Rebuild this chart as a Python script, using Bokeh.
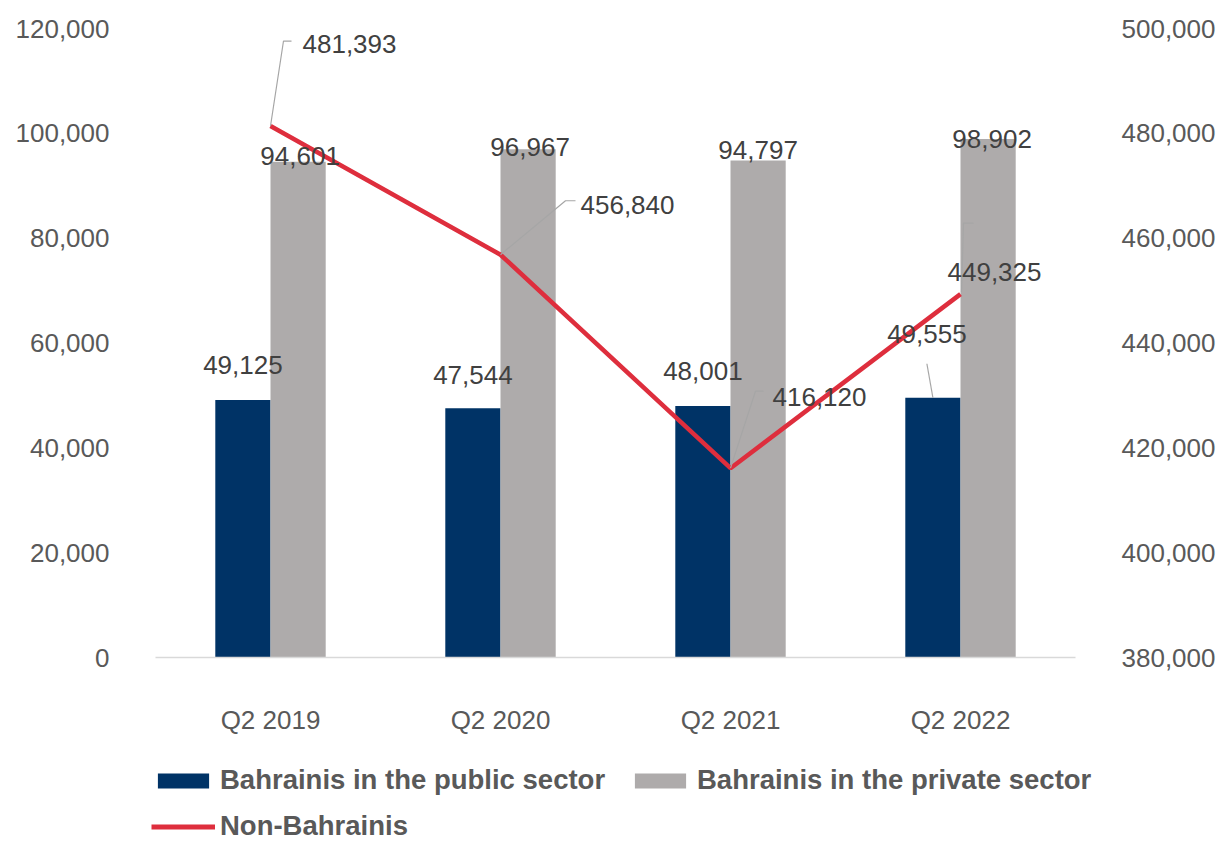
from bokeh.plotting import figure
from bokeh.layouts import column
from bokeh.models import (Range1d, LinearAxis, Legend, LegendItem, NumeralTickFormatter,
                          FixedTicker, ColumnDataSource)
from bokeh.transform import dodge
from bokeh.core.properties import value
from bokeh.embed import file_html
from bokeh.resources import INLINE

# ---------------- data ----------------
quarters = ["Q2 2019", "Q2 2020", "Q2 2021", "Q2 2022"]
public_sector = [49125, 47544, 48001, 49555]
private_sector = [94601, 96967, 94797, 98902]
non_bahrainis = [481393, 456840, 416120, 449325]

left_ticks = [0, 20000, 40000, 60000, 80000, 100000, 120000]
right_ticks = [380000, 400000, 420000, 440000, 460000, 480000, 500000]

series_names = ["Bahrainis in the public sector", "Bahrainis in the private sector", "Non-Bahrainis"]

# ---------------- style ----------------
NAVY = "#003366"
GREY = "#AEABAB"
RED = "#DE2E3D"
LABEL_COLOR = "#404040"
TICK_COLOR = "#595959"
FONT = "Liberation Sans"

W, H1, H2 = 1222, 750, 92
B_LEFT, B_RIGHT, B_TOP, B_BOTTOM = 155, 147, 28, 93
FRAME_W = W - B_LEFT - B_RIGHT
FRAME_H = H1 - B_TOP - B_BOTTOM
BAR_W = 0.24

xs = list(range(1, len(quarters) + 1))
PX_X = FRAME_W / len(quarters)                              # px per category unit
UNIT_Y = (left_ticks[-1] - left_ticks[0]) / FRAME_H         # data units per px (both axes share span)

p = figure(width=W, height=H1, output_backend="svg", toolbar_location=None,
           x_range=Range1d(0.5, len(quarters) + 0.5),
           y_range=Range1d(left_ticks[0], left_ticks[-1]),
           min_border_left=B_LEFT, min_border_right=B_RIGHT,
           min_border_top=B_TOP, min_border_bottom=B_BOTTOM,
           y_axis_location=None, x_axis_location=None)
p.extra_y_ranges = {"right": Range1d(right_ticks[0], right_ticks[-1])}
p.outline_line_color = None
p.xgrid.visible = False
p.ygrid.visible = False
p.background_fill_color = "white"
p.border_fill_color = "white"

src = ColumnDataSource(dict(x=xs, pub=public_sector, priv=private_sector, nb=non_bahrainis,
                            pub_lbl=[f"{v:,}" for v in public_sector],
                            priv_lbl=[f"{v:,}" for v in private_sector],
                            nb_lbl=[f"{v:,}" for v in non_bahrainis]))

# axes
xaxis = LinearAxis(ticker=FixedTicker(ticks=xs),
                   major_label_overrides={x: q for x, q in zip(xs, quarters)})
yaxis_l = LinearAxis(ticker=FixedTicker(ticks=left_ticks), formatter=NumeralTickFormatter(format="0,0"))
yaxis_r = LinearAxis(y_range_name="right", ticker=FixedTicker(ticks=right_ticks),
                     formatter=NumeralTickFormatter(format="0,0"))
for ax in (xaxis, yaxis_l, yaxis_r):
    ax.major_tick_line_color = None
    ax.minor_tick_line_color = None
    ax.major_tick_in = 0
    ax.major_tick_out = 0
    ax.minor_tick_out = 0
    ax.major_label_text_font = FONT
    ax.major_label_text_font_size = "26px"
    ax.major_label_text_color = TICK_COLOR
yaxis_l.axis_line_color = None
yaxis_r.axis_line_color = None
xaxis.axis_line_color = "#D9D9D9"
xaxis.axis_line_width = 1.5
xaxis.major_label_standoff = 47
yaxis_l.major_label_standoff = 46
yaxis_r.major_label_standoff = 46
p.add_layout(xaxis, "below")
p.add_layout(yaxis_l, "left")
p.add_layout(yaxis_r, "right")

# bars
bar_pub = dict(fill_color=NAVY, line_color=None)
bar_priv = dict(fill_color=GREY, line_color=None)
line_sty = dict(line_color=RED, line_width=4.5)
r_pub = p.vbar(x=dodge("x", -BAR_W / 2, range=p.x_range), top="pub", width=BAR_W, source=src, **bar_pub)
r_priv = p.vbar(x=dodge("x", BAR_W / 2, range=p.x_range), top="priv", width=BAR_W, source=src, **bar_priv)

# line
r_line = p.line(x="x", y="nb", source=src, y_range_name="right", **line_sty)

# leader lines (pixel offsets -> data units)
LEADER = "#A6A6A6"
nb_leaders = [[(0, 0), (13, -85), (21, -85)],
              [(0, 0), (65, -54), (75, -54)],
              [(0, 0), (25, -77), (33, -77)],
              [(1, -2), (3, -71), (13, -71)]]
lx, ly = [], []
for x, y, pts in zip(xs, non_bahrainis, nb_leaders):
    lx.append([x + dx / PX_X for dx, dy in pts])
    ly.append([y - dy * UNIT_Y for dx, dy in pts])
p.multi_line(xs=lx, ys=ly, y_range_name="right", line_color=LEADER, line_width=1.2)

pub_leaders = [None, None, None, [(0, 0), (-6, -34)]]
plx, ply = [], []
for x, y, pts in zip(xs, public_sector, pub_leaders):
    if pts is None:
        continue
    plx.append([x - BAR_W / 2 + dx / PX_X for dx, dy in pts])
    ply.append([y - dy * UNIT_Y for dx, dy in pts])
p.multi_line(xs=plx, ys=ply, line_color=LEADER, line_width=1.2)

# data labels
src.data["pub_dx"] = [0, 0, 0, -6]
src.data["pub_dy"] = [-35, -33, -35, -64]
src.data["priv_dx"] = [2, 2, 0, 4]
src.data["priv_dy"] = [-6, -2, -11, 0]
src.data["nb_dx"] = [79, 127, 89, 34]
src.data["nb_dy"] = [-82, -50, -71, -22]

common = dict(text_font=value(FONT), text_font_size="26px", text_color=LABEL_COLOR,
              text_align="center", text_baseline="middle", source=src)
p.text(x=dodge("x", -BAR_W / 2, range=p.x_range), y="pub", text="pub_lbl",
       x_offset="pub_dx", y_offset="pub_dy", **common)
p.text(x=dodge("x", BAR_W / 2, range=p.x_range), y="priv", text="priv_lbl",
       x_offset="priv_dx", y_offset="priv_dy", **common)
p.text(x="x", y="nb", text="nb_lbl", y_range_name="right",
       x_offset="nb_dx", y_offset="nb_dy", **common)

# ---------------- legend strip (separate figure so nothing is clipped) ----------------
p2 = figure(width=W, height=H2, output_backend="svg", toolbar_location=None,
            x_range=Range1d(0, 1), y_range=Range1d(0, 1),
            min_border=0, x_axis_location=None, y_axis_location=None)
p2.outline_line_color = None
p2.xgrid.visible = False
p2.ygrid.visible = False
p2.border_fill_color = "white"
for fig in (p, p2):
    if hasattr(fig, "frame_align"):
        fig.frame_align = False
g_pub = p2.vbar(x="x", top="pub", width=BAR_W, source=src, visible=False, **bar_pub)
g_priv = p2.vbar(x="x", top="priv", width=BAR_W, source=src, visible=False, **bar_priv)
g_line = p2.line(x="x", y="nb", source=src, visible=False, line_color=RED, line_width=5)

legend = Legend(items=[LegendItem(label=series_names[0], renderers=[g_pub]),
                       LegendItem(label=series_names[1], renderers=[g_priv]),
                       LegendItem(label=series_names[2], renderers=[g_line])],
                location=(151, 0), orientation="horizontal", ncols=2,
                glyph_width=64, glyph_height=19, label_standoff=5,
                label_height=30, label_width=394, spacing=14,
                padding=0, margin=0, border_line_color=None, background_fill_alpha=0,
                label_text_font=FONT, label_text_font_size="27.5px",
                label_text_font_style="bold", label_text_color=TICK_COLOR)
p2.add_layout(legend, "center")

layout = column(p, p2, spacing=0)
open("out.html", "w").write(file_html(layout, INLINE))
